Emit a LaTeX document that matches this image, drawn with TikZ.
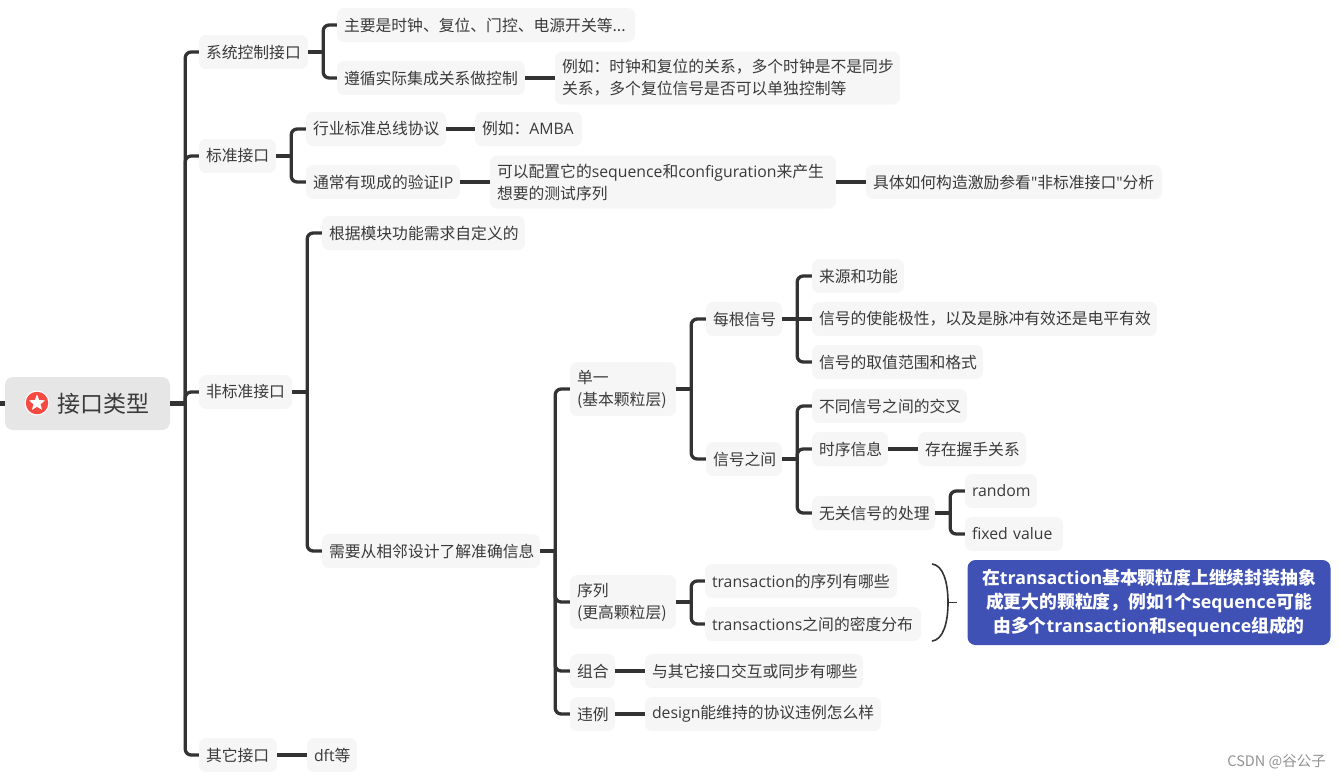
\documentclass[tikz,border=0pt]{standalone}
\usepackage{fontspec}
\usetikzlibrary{shapes.geometric}
\setmainfont{Noto Sans CJK SC}
\newfontfamily\latf{Open Sans}
\newcommand\LT[1]{{\latf #1}}
\definecolor{ink}{HTML}{3A3A3A}
\definecolor{linec}{HTML}{333333}
\definecolor{boxf}{HTML}{F6F6F6}
\definecolor{rootf}{HTML}{E6E6E6}
\definecolor{callf}{HTML}{3F51B5}
\definecolor{iconf}{HTML}{F44A42}
\tikzset{
 box/.style={fill=boxf,rounded corners=7pt,text=ink,font=\fontsize{15.8}{22}\selectfont,inner xsep=7pt,inner ysep=0pt,align=left},
 conn/.style={draw=linec,line width=3.3pt},
 thick conn/.style={draw=linec,line width=4.4pt},
}
\newcommand\bx[6]{%
 \pgfmathsetmacro\bw{#3-#2}\pgfmathsetmacro\tw{#3-#2-14}\pgfmathsetmacro\bc{(#2+#3)/2}%
 \node[box,minimum width=\bw pt,text width=\tw pt,minimum height=#5pt] (#1) at (\bc,#4) {#6};}
\newcommand\tree[2]{%
 \draw[conn] (#1.east) -- ++(15,0) coordinate (m);
 \draw[conn,rounded corners=6pt] (m) |- (#2.west);}
\newcommand\str[2]{\draw[conn] (#1.east) -- (#2.west);}
\begin{document}
\begin{tikzpicture}[x=1pt,y=-1pt]
\useasboundingbox (0,0) rectangle (1341,780);
\node[fill=rootf,rounded corners=8pt,minimum width=165pt,minimum height=53pt,inner sep=0pt,text=ink,font=\fontsize{23}{28}\selectfont,text width=137pt,align=right] (root) at (87.5,403.5) {接口类型\hspace*{6pt}};
\node[circle,fill=white,minimum size=25pt,inner sep=0pt] (iconring) at (37,403) {};
\node[circle,fill=iconf,minimum size=22.5pt,inner sep=0pt] (icon) at (37,403) {};
\node[star,star points=5,star point ratio=2.3,fill=white,minimum size=17pt,inner sep=0pt] (iconstar) at (37,403) {};
\bx{sys}{199}{308}{52}{34}{系统控制接口}
\bx{aa}{337}{635}{25}{34}{主要是时钟、复位、门控、电源开关等...}
\bx{ab}{337}{525}{78}{34}{遵循实际集成关系做控制}
\bx{ac}{555}{900}{78}{53}{例如：时钟和复位的关系，多个时钟是不是同步\\关系，多个复位信号是否可以单独控制等}
\bx{std}{199}{276}{156}{34}{标准接口}
\bx{ba}{306}{446}{129}{34}{行业标准总线协议}
\bx{bb}{475}{582}{129}{34}{例如：\LT{AMBA}}
\bx{bc}{306}{460}{182}{34}{通常有现成的验证\LT{IP}}
\bx{bd}{490}{836}{182}{53}{可以配置它的\LT{sequence}和\LT{configuration}来产生\\想要的测试序列}
\bx{be}{866}{1162}{182}{34}{具体如何构造激励参看\LT{"}非标准接口\LT{"}分析}
\bx{non}{199}{292}{392}{34}{非标准接口}
\bx{ca}{322}{525}{233}{34}{根据模块功能需求自定义的}
\bx{cb}{322}{540}{551}{34}{需要从相邻设计了解准确信息}
\bx{da}{570}{676}{389}{54}{单一\\(基本颗粒层)}
\bx{ea}{706}{782}{319}{34}{每根信号}
\bx{fa}{812}{904}{276}{34}{来源和功能}
\bx{fb}{812}{1157}{319}{34}{信号的使能极性，以及是脉冲有效还是电平有效}
\bx{fc}{812}{983}{362}{34}{信号的取值范围和格式}
\bx{eb}{706}{782}{459}{34}{信号之间}
\bx{ga}{812}{967}{406}{34}{不同信号之间的交叉}
\bx{gb}{812}{888}{449}{34}{时序信息}
\bx{gc}{918}{1026}{449}{34}{存在握手关系}
\bx{gd}{812}{935}{513}{34}{无关信号的处理}
\bx{ha}{965}{1037}{491}{34}{\LT{random}}
\bx{hb}{965}{1063}{534}{34}{\LT{fixed value}}
\bx{db}{570}{676}{602}{54}{序列\\(更高颗粒层)}
\bx{ec}{705}{897}{581}{34}{\LT{transaction}的序列有哪些}
\bx{ed}{705}{921}{624}{34}{\LT{transactions}之间的密度分布}
\bx{dc}{570}{615}{671}{34}{组合}
\bx{ee}{645}{863}{671}{34}{与其它接口交互或同步有哪些}
\bx{dd}{570}{615}{714}{34}{违例}
\bx{ef}{645}{881}{714}{34}{\LT{design}能维持的协议违例怎么样}
\bx{oth}{199}{277}{755}{34}{其它接口}
\bx{oa}{307}{357}{755}{34}{\LT{dft}等}
\node[fill=callf,rounded corners=8pt,minimum width=363pt,minimum height=85pt,inner sep=0pt,text=white,align=center,font=\fontsize{17.8}{24}\selectfont\bfseries] (call) at (1149,602.5) {在\LT{transaction}基本颗粒度上继续封装抽象\\成更大的颗粒度，例如\LT{1}个\LT{sequence}可能\\由多个\LT{transaction}和\LT{sequence}组成的};
\node[text=gray!85,font=\fontsize{14.5}{16}\selectfont,anchor=east,inner sep=0pt] (mark) at (1326,762) {CSDN @谷公子};
% connectors
\coordinate (rootin) at (0,403.5);
\draw[thick conn] (rootin) -- (root.west);
\draw[thick conn] (root.east) -- ++(15,0) coordinate (rm);
\draw[conn,rounded corners=6pt] (rm) |- (sys.west);
\draw[conn,rounded corners=6pt] (rm) |- (std.west);
\draw[conn,rounded corners=6pt] (rm) |- (non.west);
\draw[conn,rounded corners=6pt] (rm) |- (oth.west);
\tree{sys}{aa}\tree{sys}{ab}\str{ab}{ac}
\tree{std}{ba}\tree{std}{bc}\str{ba}{bb}\str{bc}{bd}\str{bd}{be}
\tree{non}{ca}\tree{non}{cb}
\tree{cb}{da}\tree{cb}{db}\tree{cb}{dc}\tree{cb}{dd}
\tree{da}{ea}\tree{da}{eb}
\tree{ea}{fa}\str{ea}{fb}\tree{ea}{fc}
\tree{eb}{ga}\tree{eb}{gb}\tree{eb}{gd}\str{gb}{gc}
\tree{gd}{ha}\tree{gd}{hb}
\tree{db}{ec}\tree{db}{ed}
\str{dc}{ee}\str{dd}{ef}\str{oth}{oa}
% brace
\coordinate (bt) at (932,564);
\coordinate (bb) at (932,641);
\coordinate (bm) at (948,602.5);
\coordinate (btip) at (957,602.5);
\draw[draw=linec,line width=1.6pt] (bt) .. controls (943,565) and (948,582) .. (bm) .. controls (948,623) and (943,640) .. (bb);
\draw[draw=linec,line width=1.6pt] (bm) -- (btip);
\end{tikzpicture}
\end{document}
